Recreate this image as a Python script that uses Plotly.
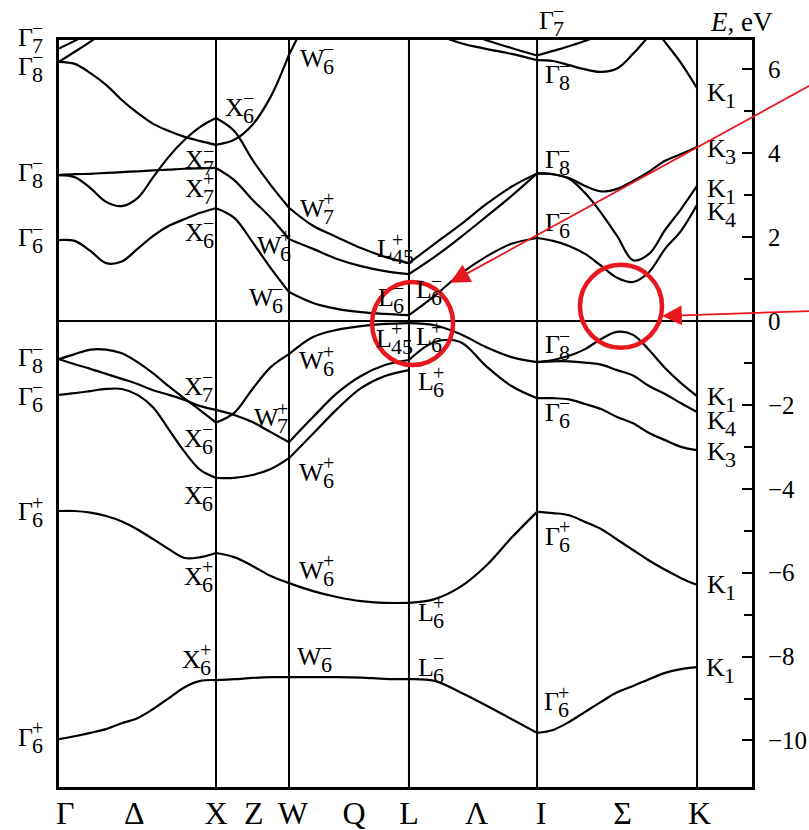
import plotly.graph_objects as go

# Path Γ–X–W–L–Γ–K: positions of the high-symmetry points (Γ–X = 1)
K_POINTS = [0.0, 1.0, 1.465, 2.229, 3.045, 4.064]
K_MAX = 4.414
E_RANGE = [-11.11, 6.70]

# fractional sample positions inside each segment
T_GX = [i / 10 for i in range(11)]
T_XW = [0, 0.25, 0.5, 0.75, 1]
T_WL = [0, 0.2, 0.4, 0.6, 0.8, 1]
T_LG = [0, 0.2, 0.4, 0.6, 0.8, 1]
T_GK = [i / 10 for i in range(11)]

# band energies (eV) along each segment; None = outside the window
BANDS_GX = [
    [6.50, 6.68, 6.90],
    [6.18, 6.42, 6.66, 6.95],
    [6.18, 6.13, 5.91, 5.63, 5.27, 4.96, 4.70, 4.53, 4.39, 4.29, 4.20],
    [3.48, 3.43, 3.17, 2.84, 2.74, 2.93, 3.43, 3.92, 4.32, 4.63, 4.84],
    [3.48, 3.50, 3.51, 3.53, 3.55, 3.57, 3.59, 3.61, 3.63, 3.64, 3.65],
    [1.93, 1.91, 1.67, 1.38, 1.42, 1.72, 2.03, 2.27, 2.43, 2.58, 2.69],
    [-0.91, -0.79, -0.68, -0.68, -0.77, -0.98, -1.25, -1.56, -1.85, -2.13, -2.42],
    [-0.91, -1.03, -1.14, -1.26, -1.38, -1.50, -1.65, -1.76, -1.88, -2.03, -2.12],
    [-1.76, -1.72, -1.67, -1.62, -1.62, -1.76, -2.06, -2.59, -3.12, -3.55, -3.74],
    [-4.53, -4.53, -4.57, -4.65, -4.78, -4.97, -5.20, -5.44, -5.65, -5.63, -5.53],
    [-9.97, -9.90, -9.82, -9.73, -9.59, -9.47, -9.25, -8.99, -8.73, -8.58, -8.56],
]
BANDS_XW = [
    [4.20, 4.32, 4.68, 5.35, 6.35],
    [4.84, 4.53, 3.84, 3.24, 2.70],
    [3.65, 3.36, 2.89, 2.46, 1.95],
    [2.69, 2.46, 1.88, 1.26, 0.69],
    [-2.42, -2.19, -1.62, -1.10, -0.79],
    [-2.12, -2.24, -2.41, -2.65, -2.89],
    [-3.74, -3.74, -3.67, -3.53, -3.27],
    [-5.53, -5.63, -5.84, -6.08, -6.25],
    [-8.56, -8.54, -8.51, -8.49, -8.49],
]
BANDS_WL = [
    [6.35, 7.5],
    [2.70, 2.27, 2.00, 1.74, 1.53, 1.38],
    [1.95, 1.72, 1.48, 1.31, 1.19, 1.12],
    [0.69, 0.43, 0.29, 0.21, 0.17, 0.14],
    [-0.79, -0.38, -0.21, -0.12, -0.07, -0.05],
    [-2.89, -2.29, -1.72, -1.31, -1.05, -0.93],
    [-3.27, -2.69, -2.10, -1.60, -1.31, -1.17],
    [-6.25, -6.44, -6.58, -6.68, -6.72, -6.72],
    [-8.49, -8.49, -8.49, -8.50, -8.53, -8.54],
]
BANDS_LG = [
    [None, 6.85, 6.63, 6.49, 6.37, 6.22],
    [None, None, 6.95, 6.70, 6.51, 6.33],
    [1.38, 1.84, 2.29, 2.78, 3.20, 3.52],
    [1.12, 1.53, 1.99, 2.48, 2.98, 3.52],
    [0.14, 0.60, 1.12, 1.53, 1.84, 1.98],
    [-0.05, -0.10, -0.31, -0.62, -0.86, -0.98],
    [-0.93, -0.50, -0.50, -1.07, -1.55, -1.84],
    [-6.72, -6.63, -6.34, -5.84, -5.17, -4.55],
    [-8.54, -8.58, -8.85, -9.16, -9.49, -9.82],
]
BANDS_GK = [
    [6.22, 6.20, 6.10, 6.00, 5.94, 6.02, 6.37, 6.80, 7.25],
    [6.33, 6.44, 6.55, 6.68, 6.82, 7.0],
    [None, None, None, None, None, None, 7.6, 7.15, 6.65, 6.15, 5.55],
    [3.52, 3.50, 3.41, 3.22, 3.09, 3.15, 3.34, 3.56, 3.82, 3.98, 4.15],
    [3.52, 3.50, 3.39, 3.05, 2.58, 2.03, 1.45, 1.60, 2.17, 2.67, 3.22],
    [1.98, 1.91, 1.79, 1.60, 1.32, 1.03, 0.93, 1.17, 1.72, 2.15, 2.77],
    [-0.98, -0.93, -0.83, -0.67, -0.43, -0.26, -0.33, -0.69, -1.12, -1.48, -1.79],
    [-0.98, -0.96, -0.96, -0.99, -1.04, -1.17, -1.30, -1.55, -1.74, -1.96, -2.17],
    [-1.84, -1.84, -1.87, -1.98, -2.10, -2.29, -2.44, -2.67, -2.84, -3.00, -3.08],
    [-4.55, -4.58, -4.63, -4.79, -4.96, -5.21, -5.46, -5.71, -5.93, -6.13, -6.29],
    [-9.82, -9.75, -9.56, -9.32, -9.08, -8.85, -8.70, -8.54, -8.39, -8.30, -8.25],
]
SEGMENTS = [(T_GX, BANDS_GX), (T_XW, BANDS_XW), (T_WL, BANDS_WL),
            (T_LG, BANDS_LG), (T_GK, BANDS_GK)]

# bottom axis labels and where they sit along the path
PATH_LABELS = ["Γ", "Δ", "X", "Z", "W", "Q", "L", "Λ", "I", "Σ", "K"]
PATH_LABEL_POS = [0.04, 0.48, 1.0, 1.24, 1.49, 1.88, 2.23, 2.66, 3.07, 3.59, 4.08]

E_TICKS = [-10, -8, -6, -4, -2, 0, 2, 4, 6]
E_MINOR = [-9, -7, -5, -3, -1, 1, 3, 5]

# symmetry labels: (k, E, letter, parity, index, x-shift px, y-shift px)
LEVEL_LABELS = [
    (0, 6.69, "Γ", "−", "7", -43, 3),
    (0, 6.08, "Γ", "−", "8", -43, 0),
    (0, 3.55, "Γ", "−", "8", -43, 0),
    (0, 1.98, "Γ", "−", "6", -43, 0),
    (0, -0.88, "Γ", "−", "8", -43, 0),
    (0, -1.79, "Γ", "−", "6", -43, 0),
    (0, -4.55, "Γ", "+", "6", -43, 0),
    (0, -9.92, "Γ", "+", "6", -43, 0),
    (1.045, 5.10, "X", "−", "6", 0, 0),
    (0.790, 3.84, "X", "−", "7", 0, 0),
    (0.790, 3.17, "X", "+", "7", 0, 0),
    (0.790, 2.12, "X", "−", "6", 0, 0),
    (0.783, -1.55, "X", "−", "7", 0, 0),
    (0.783, -2.79, "X", "−", "6", 0, 0),
    (0.783, -4.17, "X", "−", "6", 0, 0),
    (0.783, -6.08, "X", "+", "6", 0, 0),
    (0.771, -8.06, "X", "+", "6", 0, 0),
    (1.522, 6.27, "W", "−", "6", 0, 0),
    (1.522, 2.69, "W", "+", "7", 0, 0),
    (1.248, 1.81, "W", "+", "6", 0, 0),
    (1.197, 0.55, "W", "−", "6", 0, 0),
    (1.516, -0.95, "W", "+", "6", 0, 0),
    (1.229, -2.31, "W", "+", "7", 0, 0),
    (1.516, -3.60, "W", "+", "6", 0, 0),
    (1.516, -5.94, "W", "+", "6", 0, 0),
    (1.503, -8.01, "W", "−", "6", 0, 0),
    (2.013, 1.72, "L", "+", "45", 0, 0),
    (2.261, 0.74, "L", "−", "6", 0, 0),
    (2.019, 0.57, "L", "−", "6", 0, 0),
    (2.006, -0.41, "L", "+", "45", 0, 0),
    (2.261, -0.38, "L", "+", "6", 0, 0),
    (2.274, -1.45, "L", "+", "6", 0, 0),
    (2.274, -6.94, "L", "+", "6", 0, 0),
    (2.274, -8.25, "L", "−", "6", 0, 0),
    (3.045, 6.69, "Γ", "−", "7", 0, 20),
    (3.083, 5.87, "Γ", "−", "8", 0, 0),
    (3.083, 3.84, "Γ", "−", "8", 0, 0),
    (3.083, 2.36, "Γ", "−", "6", 0, 0),
    (3.083, -0.57, "Γ", "−", "8", 0, 0),
    (3.083, -2.17, "Γ", "−", "6", 0, 0),
    (3.083, -5.13, "Γ", "+", "6", 0, 0),
    (3.076, -9.08, "Γ", "+", "6", 0, 0),
    (4.115, 5.46, "K", "", "1", 0, 0),
    (4.115, 4.12, "K", "", "3", 0, 0),
    (4.115, 3.17, "K", "", "1", 0, 0),
    (4.115, 2.60, "K", "", "4", 0, 0),
    (4.115, -1.79, "K", "", "1", 0, 0),
    (4.115, -2.38, "K", "", "4", 0, 0),
    (4.115, -3.10, "K", "", "3", 0, 0),
    (4.115, -6.29, "K", "", "1", 0, 0),
    (4.108, -8.25, "K", "", "1", 0, 0),
]

# highlighted regions (k0, k1, E0, E1) and pointer arrows (tip k, tip E, tail k, tail E)
HIGHLIGHTS = [(1.994, 2.510, -1.05, 0.93), (3.318, 3.841, -0.64, 1.34)]
POINTERS = [(2.490, 0.91, 4.80, 5.65), (3.841, 0.12, 4.80, 0.24)]

SERIF = "Liberation Serif"
RED = "rgb(232,22,30)"
BASE_SIZE = 26
ADVANCE = {"Γ": 0.578, "X": 0.722, "W": 0.944, "L": 0.611, "K": 0.722}

fig = go.Figure()

for i, (ts, bands) in enumerate(SEGMENTS):
    k0, k1 = K_POINTS[i], K_POINTS[i + 1]
    ks = [k0 + t * (k1 - k0) for t in ts]
    for band in bands:
        pts = [(k, e) for k, e in zip(ks, band) if e is not None]
        fig.add_trace(go.Scatter(
            x=[p[0] for p in pts], y=[p[1] for p in pts], mode="lines",
            line=dict(color="black", width=2.2, shape="spline", smoothing=1.0),
            showlegend=False, hoverinfo="skip"))

# vertical lines at X, W, L, Γ, K
for kp in K_POINTS[1:]:
    fig.add_shape(type="line", xref="x", yref="paper", x0=kp, x1=kp, y0=0, y1=1,
                  line=dict(color="black", width=2))


def add_level_label(k, e, base, sign, sub, dx, dy):
    w = ADVANCE[base] * BASE_SIZE
    common = dict(x=k, y=e, xref="x", yref="y", showarrow=False,
                  xanchor="left", yanchor="middle")
    fig.add_annotation(text=base, xshift=dx, yshift=dy,
                       font=dict(family=SERIF, size=BASE_SIZE, color="black"), **common)
    if sign:
        fig.add_annotation(text=sign, xshift=dx + w - 1, yshift=dy + 9,
                           font=dict(family=SERIF, size=20, color="black"), **common)
    fig.add_annotation(text=sub, xshift=dx + w - 1, yshift=dy - 8,
                       font=dict(family=SERIF, size=22, color="black"), **common)


for lab in LEVEL_LABELS:
    add_level_label(*lab)

fig.add_annotation(text="<i>E</i>, eV", xref="paper", yref="paper", x=0.985, y=1,
                   yshift=18, xanchor="center", yanchor="middle", showarrow=False,
                   font=dict(family=SERIF, size=27, color="black"))

for k0, k1, e0, e1 in HIGHLIGHTS:
    fig.add_shape(type="circle", xref="x", yref="y", x0=k0, x1=k1, y0=e0, y1=e1,
                  line=dict(color=RED, width=4.5))

for tk, te, sk, se in POINTERS:
    fig.add_annotation(x=tk, y=te, ax=sk, ay=se, xref="x", yref="y", axref="x", ayref="y",
                       text="", showarrow=True, arrowhead=2, arrowsize=2.2,
                       arrowwidth=1.8, arrowcolor=RED, standoff=0)

fig.update_layout(
    width=809, height=830,
    margin=dict(l=59, r=57, t=40, b=43, autoexpand=False),
    paper_bgcolor="white", plot_bgcolor="white",
    hovermode=False,
    font=dict(family=SERIF, color="black"),
    xaxis=dict(range=[0, K_MAX], showgrid=False, zeroline=False, automargin=False,
               showline=True, linewidth=3, linecolor="black", mirror=True,
               tickmode="array", tickvals=PATH_LABEL_POS, ticktext=PATH_LABELS,
               ticks="", ticklabelstandoff=-4,
               tickfont=dict(family=SERIF, size=32, color="black")),
    yaxis=dict(range=E_RANGE, side="right", showgrid=False, automargin=False,
               zeroline=True, zerolinecolor="black", zerolinewidth=2,
               showline=True, linewidth=3, linecolor="black", mirror=True,
               tickmode="array", tickvals=E_TICKS, ticks="inside", ticklen=10,
               tickwidth=2, tickcolor="black", ticklabelstandoff=8,
               tickfont=dict(family=SERIF, size=25, color="black"),
               minor=dict(tickvals=E_MINOR, ticks="inside", ticklen=8,
                          tickwidth=2, tickcolor="black")),
)

fig.write_html("out.html")
